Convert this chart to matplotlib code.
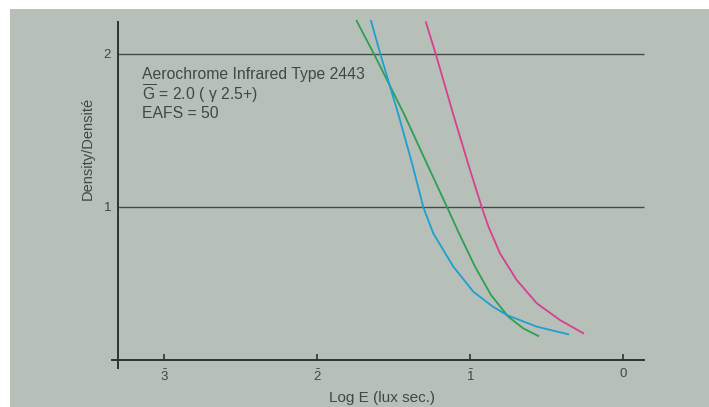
import matplotlib
matplotlib.use("Agg")
import matplotlib.pyplot as plt
from matplotlib.patches import Rectangle

plt.rcParams['font.family'] = ['Liberation Sans', 'DejaVu Sans']
plt.rcParams['mathtext.fontset'] = 'custom'
plt.rcParams['mathtext.rm'] = 'Liberation Sans'
plt.rcParams['mathtext.it'] = 'Liberation Sans'
plt.rcParams['mathtext.bf'] = 'Liberation Sans:bold'

# ---- data (Log E, Density) ----
green_x = [-1.741, -1.624, -1.428, -1.278, -1.148, -1.072, -0.967, -0.863, -0.750, -0.652, -0.554]
green_y = [2.216, 1.993, 1.601, 1.275, 0.995, 0.828, 0.610, 0.425, 0.283, 0.207, 0.157]

blue_x = [-1.647, -1.584, -1.467, -1.376, -1.304, -1.240, -1.109, -0.978, -0.855, -0.760, -0.564, -0.358]
blue_y = [2.216, 1.993, 1.601, 1.275, 0.995, 0.828, 0.610, 0.446, 0.352, 0.294, 0.218, 0.168]

magenta_x = [-1.288, -1.222, -1.108, -1.010, -0.922, -0.879, -0.804, -0.695, -0.564, -0.412, -0.260]
magenta_y = [2.207, 1.993, 1.601, 1.275, 0.995, 0.871, 0.697, 0.523, 0.371, 0.261, 0.175]

x_ticks = [-3, -2, -1, 0]
x_tick_labels = [r'$\bar{3}$', r'$\bar{2}$', r'$\bar{1}$', '0']
y_ticks = [1, 2]
y_tick_labels = ['1', '2']

W, H = 709, 407
fig = plt.figure(figsize=(W / 100, H / 100), dpi=100, facecolor='white')
bg = '#b6c0b9'
fig.patches.append(Rectangle((10 / W, 0), 1 - 10 / W, 1 - 9 / H, transform=fig.transFigure,
                             facecolor=bg, edgecolor='none', zorder=-10))

# axes: px left 112, right 645, top 20, bottom 368
ax = fig.add_axes([112 / W, (H - 368) / H, 533 / W, 348 / H])
ax.set_zorder(2)
ax.set_facecolor('none')
ax.set_xlim(-3.340, 0.1438)
ax.set_ylim(-0.0523, 2.222)

axis_col = '#2c3630'
for s in ['top', 'right']:
    ax.spines[s].set_visible(False)
ax.spines['left'].set_position(('data', -3.30))
ax.spines['left'].set_bounds(-0.05, 2.21)
ax.spines['bottom'].set_position(('data', 0))
ax.spines['bottom'].set_bounds(-3.34, 0.14)
for s in ['left', 'bottom']:
    ax.spines[s].set_color(axis_col)
    ax.spines[s].set_linewidth(1.4)

ax.hlines(y_ticks, -3.30, 0.14, color='#434a45', linewidth=1.0, zorder=1)

line_kw = dict(linewidth=1.3, clip_on=False, zorder=3, solid_joinstyle='round')
ax.plot(green_x, green_y, color='#2e9e55', **line_kw)
ax.plot(blue_x, blue_y, color='#1e9fd0', **line_kw)
ax.plot(magenta_x, magenta_y, color='#d8408c', **line_kw)

txt_col = '#414843'
ax.set_xticks(x_ticks)
ax.set_xticklabels(x_tick_labels)
ax.tick_params(axis='x', direction='in', length=4, width=1.2, color=axis_col,
               labelsize=9.5, labelcolor=txt_col, pad=6)
ax.set_yticks(y_ticks)
ax.set_yticklabels(y_tick_labels)
ax.tick_params(axis='y', length=0, labelsize=9.5, labelcolor=txt_col, pad=5)

fig.text(382 / W, 1 - 398 / H, 'Log E (lux sec.)', ha='center', va='center',
         fontsize=11, color=txt_col)
fig.text(88 / W, 1 - 148 / H, 'Density/Densité', ha='center', va='center',
         rotation=90, fontsize=10.5, color=txt_col)

fig.text(142 / W, 1 - 74 / H, 'Aerochrome Infrared Type 2443', ha='left', va='center',
         fontsize=11.3, color=txt_col)
fig.text(142 / W, 1 - 94 / H, r'$\overline{\mathrm{G}}$ = 2.0 ( γ 2.5+)', ha='left', va='center',
         fontsize=11.3, color=txt_col)
fig.text(142 / W, 1 - 114 / H, 'EAFS = 50', ha='left', va='center',
         fontsize=11.3, color=txt_col)

fig.savefig('out.png', dpi=100, facecolor='white')
